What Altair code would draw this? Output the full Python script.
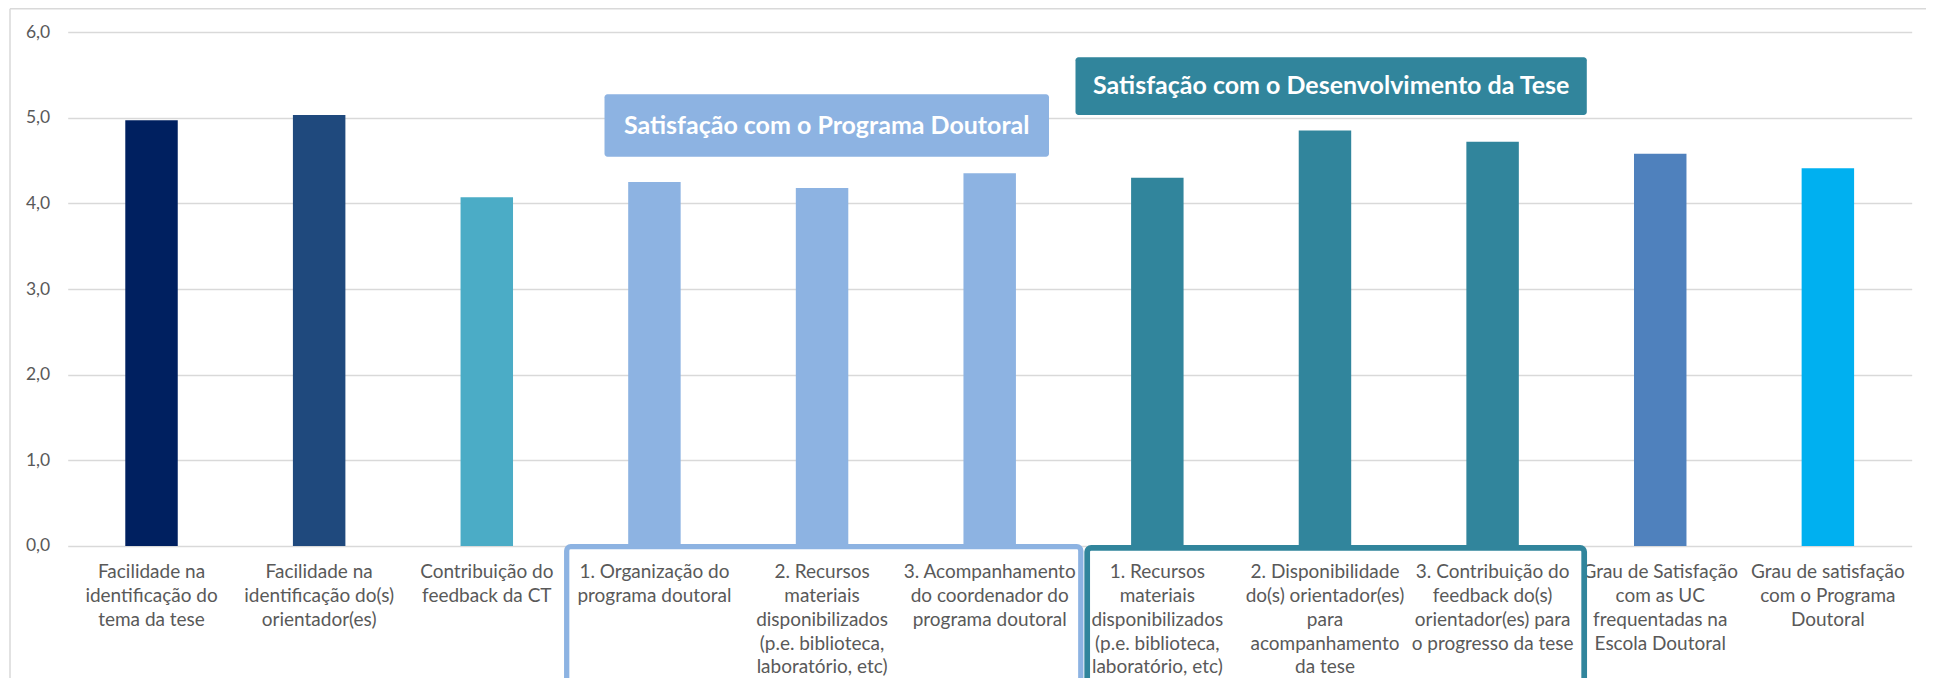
import altair as alt
import pandas as pd

# ---- data ----
label_lines = [
    ["Facilidade na", "identificação do", "tema da tese"],
    ["Facilidade na", "identificação do(s)", "orientador(es)"],
    ["Contribuição do", "feedback da CT"],
    ["1. Organização do", "programa doutoral"],
    ["2. Recursos", "materiais", "disponibilizados", "(p.e. biblioteca,", "laboratório, etc)"],
    ["3. Acompanhamento", "do coordenador do", "programa doutoral"],
    ["1. Recursos", "materiais", "disponibilizados", "(p.e. biblioteca,", "laboratório, etc)"],
    ["2. Disponibilidade", "do(s) orientador(es)", "para", "acompanhamento", "da tese"],
    ["3. Contribuição do", "feedback do(s)", "orientador(es) para", "o progresso da tese"],
    ["Grau de Satisfação", "com as UC", "frequentadas na", "Escola Doutoral"],
    ["Grau de satisfação", "com o Programa", "Doutoral"],
]
values = [4.97, 5.03, 4.07, 4.25, 4.18, 4.35, 4.30, 4.85, 4.72, 4.58, 4.41]
bar_colors = ["#002060", "#1F497D", "#4BACC6", "#8DB3E2", "#8DB3E2", "#8DB3E2",
              "#31859C", "#31859C", "#31859C", "#4F81BD", "#00B0F0"]
y_ticks = [0, 1, 2, 3, 4, 5, 6]
group_titles = ["Satisfação com o Programa Doutoral", "Satisfação com o Desenvolvimento da Tese"]
group_colors = ["#8DB3E2", "#31859C"]

categories = ["\n".join(lines) for lines in label_lines]
df = pd.DataFrame({"cat": categories, "val": values})

W, H = 1844, 514
TEXT = "#595959"
FONT = "Lato"

bars = alt.Chart(df).mark_bar().encode(
    x=alt.X("cat:N", sort=categories,
            scale=alt.Scale(paddingInner=0.687, paddingOuter=0.3435),
            axis=alt.Axis(title=None, labelExpr="split(datum.label, '\\n')", labelAngle=0,
                          labelFont=FONT, labelFontSize=19, labelColor=TEXT,
                          labelLineHeight=23.7, labelPadding=17, labelLimit=400,
                          labelOverlap=False, ticks=False, domain=False,
                          labelBaseline="top", labelAlign="center")),
    y=alt.Y("val:Q", scale=alt.Scale(domain=[0, 6], nice=False),
            axis=alt.Axis(title=None, values=y_ticks,
                          labelExpr="replace(format(datum.value, '.1f'), '.', ',')",
                          grid=True, gridColor="#D9D9D9", gridWidth=1.5,
                          domain=False, ticks=False, labelPadding=18,
                          labelFont=FONT, labelFontSize=17.5, labelColor=TEXT)),
    color=alt.Color("cat:N", scale=alt.Scale(domain=categories, range=bar_colors), legend=None),
)

one = pd.DataFrame({"k": [0]})

border_left = alt.Chart(one).mark_rule(color="#D9D9D9", strokeWidth=1.5).encode(
    x=alt.value(-57.7), y=alt.value(-23.2), y2=alt.value(H + 300))
border_top = alt.Chart(one).mark_rule(color="#D9D9D9", strokeWidth=1.5).encode(
    x=alt.value(-57.7), x2=alt.value(W + 60), y=alt.value(-23.2))

frame1 = alt.Chart(one).mark_rect(filled=False, stroke=group_colors[0], strokeWidth=5.3,
                                  cornerRadius=4).encode(
    x=alt.value(499), x2=alt.value(1013.1), y=alt.value(514.7), y2=alt.value(H + 300))
frame2 = alt.Chart(one).mark_rect(filled=False, stroke=group_colors[1], strokeWidth=5.7,
                                  cornerRadius=4).encode(
    x=alt.value(1019.5), x2=alt.value(1516.5), y=alt.value(515.8), y2=alt.value(H + 300))

box1 = alt.Chart(one).mark_rect(fill=group_colors[0], cornerRadius=3).encode(
    x=alt.value(536.8), x2=alt.value(981.3), y=alt.value(62.3), y2=alt.value(124.7))
box2 = alt.Chart(one).mark_rect(fill=group_colors[1], cornerRadius=3).encode(
    x=alt.value(1007.8), x2=alt.value(1519.1), y=alt.value(25.3), y2=alt.value(83))

t1 = alt.Chart(one).mark_text(font=FONT, fontWeight="bold", fontSize=25, color="white",
                              align="center", baseline="middle").encode(
    x=alt.value(759), y=alt.value(93.5), text=alt.value(group_titles[0]))
t2 = alt.Chart(one).mark_text(font=FONT, fontWeight="bold", fontSize=25, color="white",
                              align="center", baseline="middle").encode(
    x=alt.value(1263.5), y=alt.value(54), text=alt.value(group_titles[1]))

chart = alt.layer(border_left, border_top, bars, frame1, frame2, box1, box2, t1, t2).properties(
    width=W, height=H,
    autosize=alt.AutoSizeParams(type="none"),
    padding={"left": 59.7, "top": 24, "right": 14, "bottom": 132},
    background="white",
).configure_view(stroke=None)

chart.save("out.html", embed_options={"renderer": "svg", "actions": False})
